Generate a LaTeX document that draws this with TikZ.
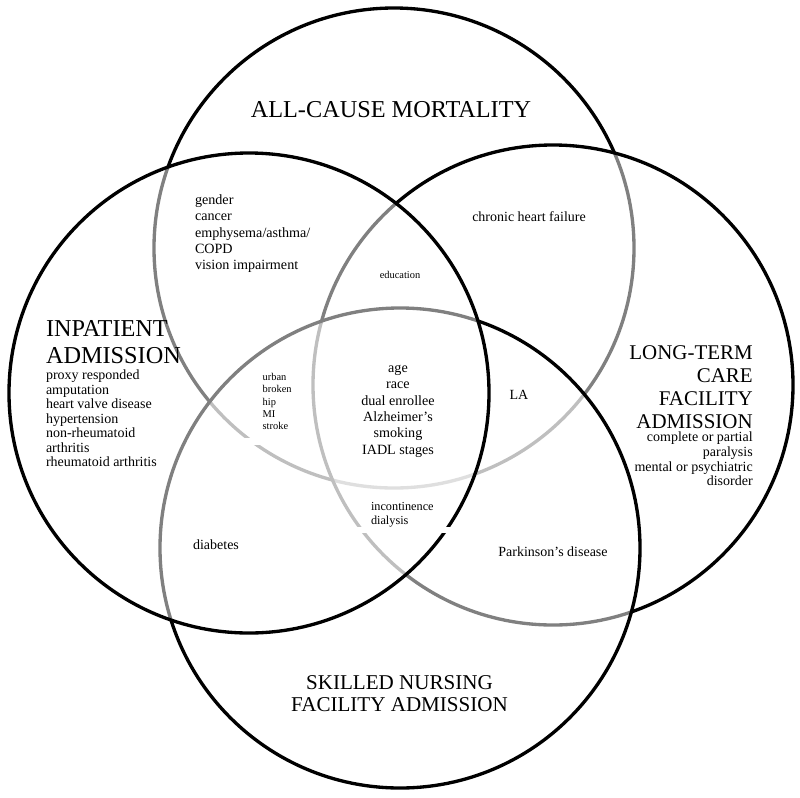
\documentclass[tikz,border=0pt]{standalone}
\usepackage{fontspec}
\setmainfont{Liberation Serif}
\begin{document}
\begin{tikzpicture}[x=0.75pt,y=-0.75pt,
  ring/.style={line width=2.5pt, draw=black, fill=white, fill opacity=0.5},
  gap/.style={fill=white, draw=none},
  lbl/.style={inner sep=0pt, outer sep=0pt},
  bigtitle/.style={lbl, font=\fontsize{18.2}{20}\selectfont},
  midtitle/.style={lbl, font=\fontsize{15.7}{17.1}\selectfont},
  small/.style={lbl, font=\fontsize{10.5}{12.2}\selectfont},
  tiny/.style={lbl, font=\fontsize{7.8}{9.1}\selectfont}
]
\useasboundingbox (0,0) rectangle (800,797);
\fill[white] (0,0) rectangle (800,797);
% circles, drawn in stacking order
\draw[ring] (394,248) circle[radius=240];
\draw[ring] (553,385) circle[radius=240];
\draw[ring] (400,548) circle[radius=240];
\draw[ring] (249,393) circle[radius=240];
% small white breaks in the outlines
\fill[gap] (350,527) rectangle (460,533);
\fill[gap] (240,437.5) rectangle (262,445);
% titles (base anchor = baseline of the last line)
\node[bigtitle, anchor=base] (mort) at (391,117.3) {ALL-CAUSE MORTALITY};
\node[bigtitle, anchor=base west, align=left] (inp) at (46,363.3) {INPATIENT\\ADMISSION};
\node[midtitle, anchor=base east, align=right] (ltc) at (752.7,428.3) {LONG-TERM\\CARE\\FACILITY\\ADMISSION};
\node[midtitle, anchor=base, align=center, font=\fontsize{15.8}{16.8}\selectfont] (snf) at (399.5,711.7) {SKILLED NURSING\\FACILITY ADMISSION};
% lists
\node[small, anchor=base west, align=left, font=\fontsize{10.5}{10.84}\selectfont] (inplist) at (46,466.7) {proxy responded\\amputation\\heart valve disease\\hypertension\\non-rheumatoid\\arthritis\\rheumatoid arthritis};
\node[small, anchor=base east, align=right, font=\fontsize{10.5}{11}\selectfont] (ltclist) at (752.7,485.7) {complete or partial\\paralysis\\mental or psychiatric\\disorder};
\node[small, anchor=base west, align=left, font=\fontsize{10.6}{12.1}\selectfont] (mortinp) at (195,269.3) {gender\\cancer\\emphysema/asthma/\\COPD\\vision impairment};
\node[small, anchor=base] (chf) at (529,221.7) {chronic heart failure};
\node[tiny, anchor=base] (edu) at (400,278.3) {education};
\node[small, anchor=base, align=center, font=\fontsize{10.6}{12.2}\selectfont] (core) at (398,454) {age\\race\\dual enrollee\\Alzheimer’s\\smoking\\IADL stages};
\node[tiny, anchor=base west, align=left] (urb) at (262.7,429.3) {urban\\broken\\hip\\MI\\stroke};
\node[small, anchor=base] (la) at (519,399.3) {LA};
\node[small, anchor=base west, align=left, font=\fontsize{9.2}{10.5}\selectfont] (incd) at (371,524) {incontinence\\dialysis};
\node[small, anchor=base] (diab) at (216,549) {diabetes};
\node[small, anchor=base] (park) at (553,556.7) {Parkinson’s disease};
\end{tikzpicture}
\end{document}
